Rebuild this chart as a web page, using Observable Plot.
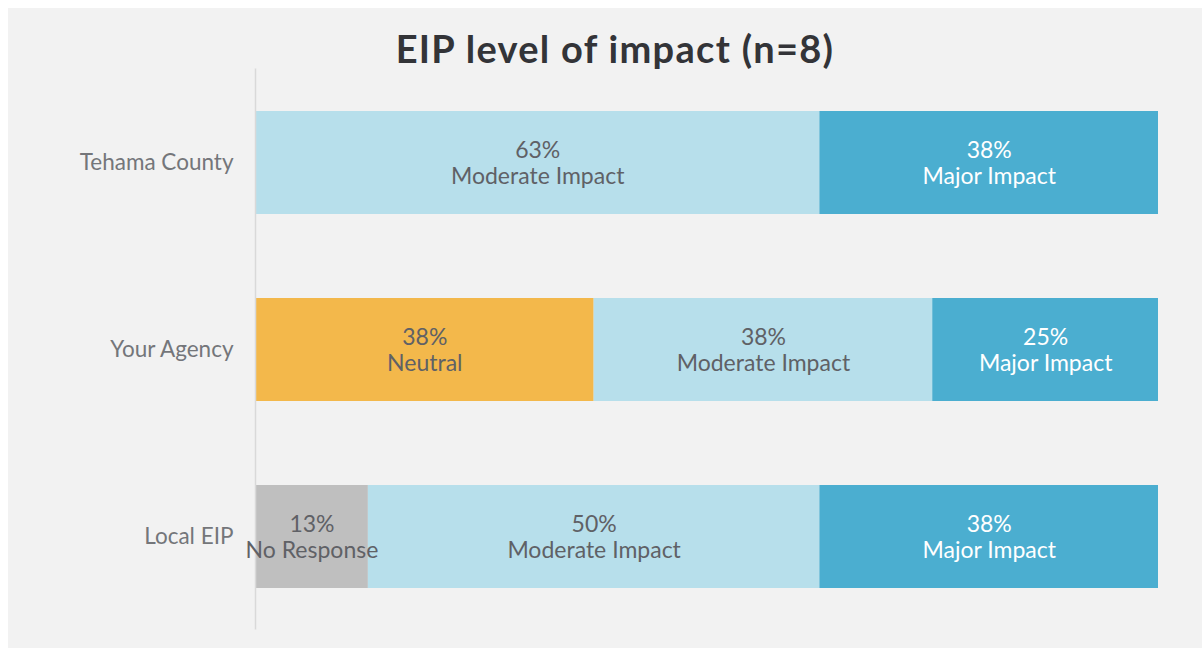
<!DOCTYPE html>
<html>
<head>
<meta charset="utf-8">
<script src="https://cdn.jsdelivr.net/npm/d3@7"></script>
<script src="https://cdn.jsdelivr.net/npm/@observablehq/plot@0.6"></script>
<style>
  html, body { margin: 0; padding: 0; background: #ffffff; }
  #panel { position: absolute; left: 8px; top: 8px; width: 1194px; height: 640px; background: #f2f2f2; }
  #title { position: absolute; left: 615px; top: 29px; transform: translateX(-50%); white-space: nowrap;
           font-family: Lato, "Noto Sans", sans-serif; font-weight: 700; font-size: 38px; line-height: 38px;
           letter-spacing: 1.3px; color: #333438; }
  #chart { position: absolute; left: 0; top: 0; }
</style>
</head>
<body>
<div id="panel"></div>
<div id="chart"></div>
<div id="title">EIP level of impact (n=8)</div>
<script>
const categories = ["Tehama County", "Your Agency", "Local EIP"];
const responses = ["No Response", "Neutral", "Moderate Impact", "Major Impact"];
const tehamaCounty = [0, 0, 62.5, 37.5];
const yourAgency = [0, 37.5, 37.5, 25];
const localEIP = [12.5, 0, 50, 37.5];
const responseColors = ["#bfbfbf", "#f3b84b", "#b7dfeb", "#4baed0"];
const labelColors = ["#5f6166", "#5f6166", "#5f6166", "#ffffff"];

const seriesByCategory = [tehamaCounty, yourAgency, localEIP];
const rows = [];
categories.forEach((c, i) => {
  responses.forEach((r, j) => {
    const v = seriesByCategory[i][j];
    if (v > 0) rows.push({category: c, response: r, value: v, order: j});
  });
});

const chart = Plot.plot({
  width: 1202,
  height: 648,
  marginLeft: 255,
  marginRight: 44,
  marginTop: 68.5,
  marginBottom: 18.5,
  style: {background: "transparent", fontFamily: "Lato, 'Noto Sans', sans-serif"},
  x: {domain: [0, 100], axis: null},
  y: {domain: categories, paddingInner: 0.45, paddingOuter: 0.225, label: null},
  color: {domain: responses, range: responseColors},
  marks: [
    Plot.barX(rows, Plot.stackX({x: "value", y: "category", fill: "response", order: "order"})),
    Plot.ruleX([0], {stroke: "#d9d9d9", strokeWidth: 1.5}),
    Plot.axisY({tickSize: 0, tickPadding: 22, fontSize: 22.5, color: "#74767a", label: null}),
    Plot.text(rows, Plot.stackX({
      x: "value", y: "category", order: "order",
      text: d => `${Math.round(d.value)}%\n${d.response}`,
      fill: d => labelColors[d.order],
      fontSize: 23, lineHeight: 1.13
    }))
  ]
});
document.getElementById("chart").appendChild(chart);
</script>
</body>
</html>
